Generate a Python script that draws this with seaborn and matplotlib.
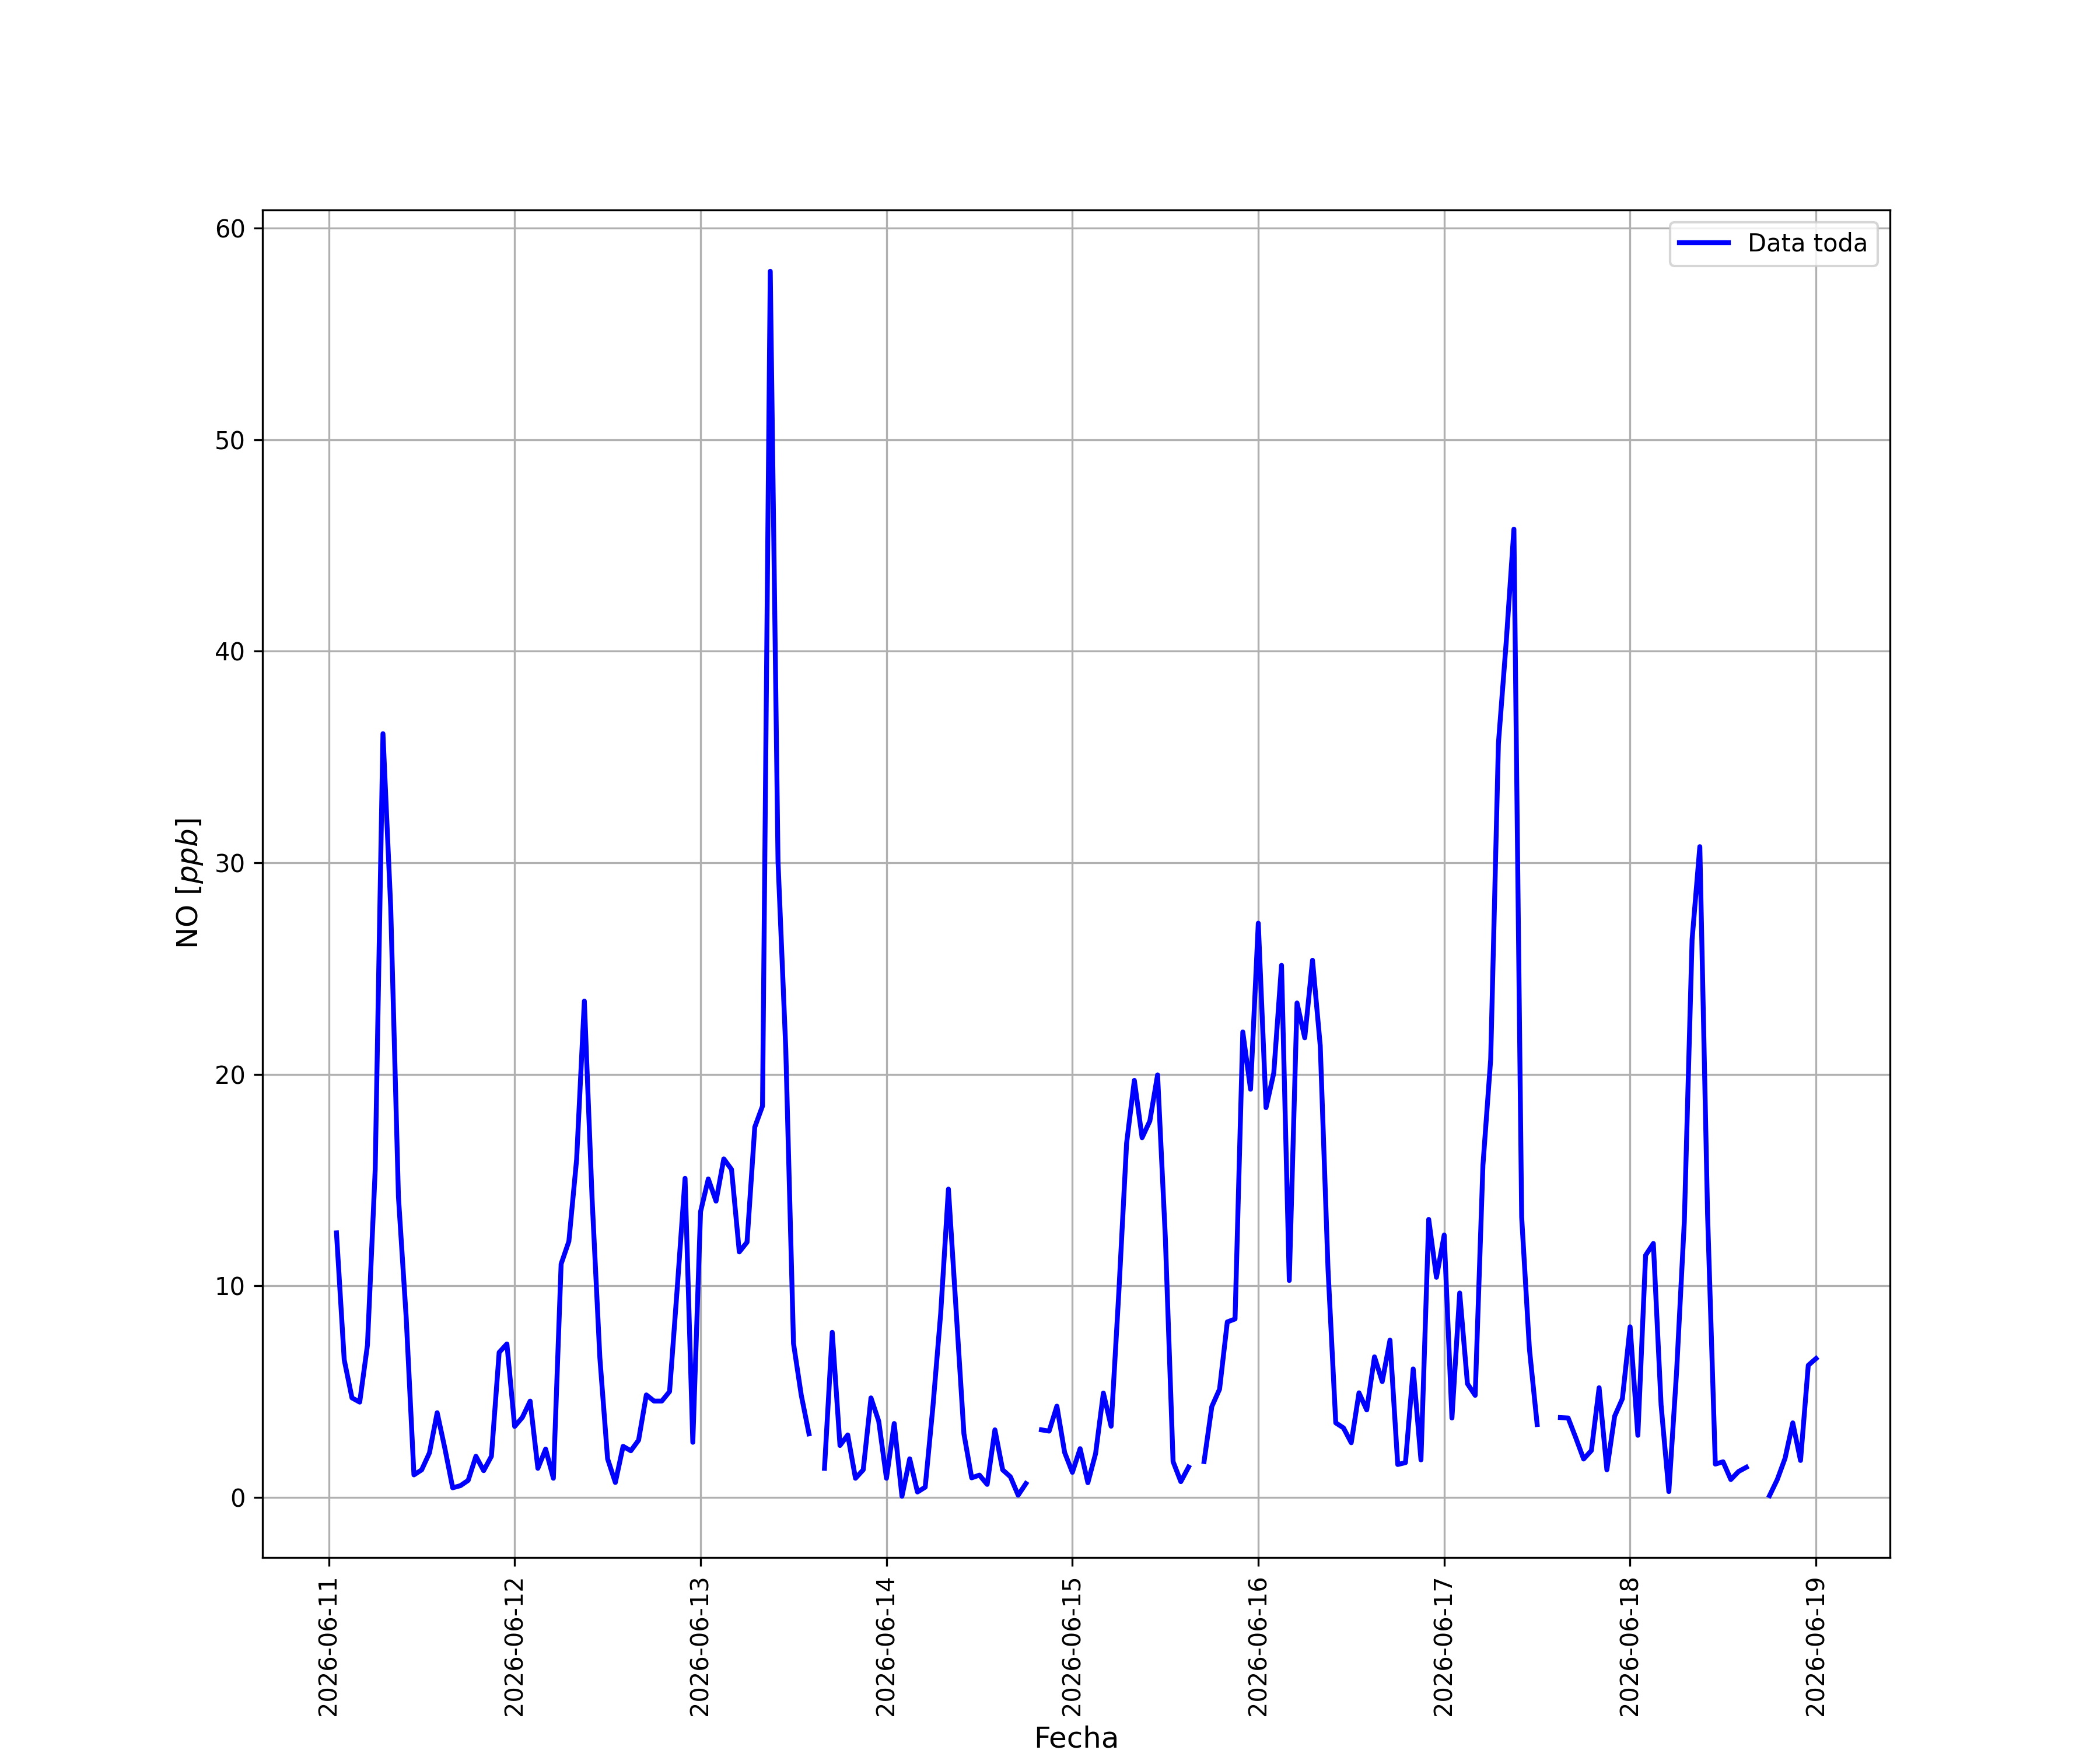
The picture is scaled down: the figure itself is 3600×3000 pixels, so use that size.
import numpy as np
import pandas as pd
import matplotlib
matplotlib.use("Agg")
import matplotlib.pyplot as plt
import matplotlib.dates as mdates
import seaborn as sns

nan = np.nan

# Hourly NO values from 2026-06-11 01:00 to 2026-06-19 00:00
no_dia11 = [12.5, 6.5, 4.7, 4.5, 7.2, 15.5, 36.1, 27.9, 14.2, 8.5, 1.06, 1.3,
            2.1, 4.0, 2.3, 0.45, 0.55, 0.8, 1.94, 1.26, 1.94, 6.85, 7.25, 3.35]
no_dia12 = [3.78, 4.55, 1.37, 2.28, 0.9, 11.03, 12.1, 15.97, 23.46, 14.1, 6.6, 1.82,
            0.7, 2.41, 2.2, 2.7, 4.84, 4.55, 4.55, 5.0, 9.94, 15.08, 2.6, 13.5]
no_dia13 = [15.05, 14.0, 16.0, 15.5, 11.6, 12.06, 17.5, 18.5, 57.96, 30.06, 21.2, 7.27,
            4.83, 3.0, nan, 1.37, 7.8, 2.45, 2.95, 0.9, 1.3, 4.7, 3.6, 0.9]
no_dia14 = [3.49, 0.05, 1.82, 0.25, 0.48, 4.3, 8.69, 14.57, 8.8, 3.0, 0.92, 1.05,
            0.61, 3.19, 1.3, 0.97, 0.1, 0.65, nan, 3.19, 3.13, 4.31, 2.12, 1.18]
no_dia15 = [2.3, 0.69, 2.07, 4.93, 3.36, 9.71, 16.74, 19.71, 17.0, 17.79, 19.97, 12.29,
            1.69, 0.74, 1.43, nan, 1.69, 4.29, 5.11, 8.29, 8.43, 22.0, 19.29, 27.14]
no_dia16 = [18.42, 20.06, 25.15, 10.25, 23.37, 21.72, 25.39, 21.34, 10.8, 3.52, 3.28, 2.58,
            4.94, 4.13, 6.64, 5.47, 7.43, 1.55, 1.64, 6.07, 1.77, 13.14, 10.4, 12.4]
no_dia17 = [3.75, 9.66, 5.37, 4.82, 15.7, 20.7, 35.64, 40.4, 45.77, 13.25, 7.02, 3.44,
            nan, nan, 3.77, 3.75, 2.8, 1.81, 2.21, 5.18, 1.3, 3.83, 4.66, 8.06]
no_dia18 = [2.93, 11.44, 12.0, 4.36, 0.27, 5.93, 13.05, 26.36, 30.76, 13.37, 1.57, 1.68,
            0.84, 1.22, 1.42, nan, nan, 0.08, 0.84, 1.84, 3.52, 1.74, 6.24, 6.56]

valores = no_dia11 + no_dia12 + no_dia13 + no_dia14 + no_dia15 + no_dia16 + no_dia17 + no_dia18
fechas = pd.date_range("2026-06-11 01:00", periods=len(valores), freq="h")

df = pd.DataFrame({"Fecha": fechas, "NO": valores})
df["seg"] = df["NO"].isna().cumsum()
df_ok = df.dropna()

fig = plt.figure(figsize=(12, 10), dpi=300)
ax = fig.add_subplot(111)

sns.lineplot(data=df_ok, x="Fecha", y="NO", units="seg", estimator=None,
             color="blue", linewidth=2, label="Data toda", ax=ax)

handles, labels = ax.get_legend_handles_labels()
ax.legend(handles[:1], labels[:1], loc="upper right", fontsize=10)

ax.xaxis.set_major_locator(mdates.DayLocator())
ax.xaxis.set_major_formatter(mdates.DateFormatter("%Y-%m-%d"))
plt.setp(ax.get_xticklabels(), rotation=90)
ax.tick_params(labelsize=10)
ax.grid(True)
ax.set_xlabel("Fecha", fontsize=12)
ax.set_ylabel("NO [$ppb$]", fontsize=12)

fig.savefig("out.png", dpi=300)
